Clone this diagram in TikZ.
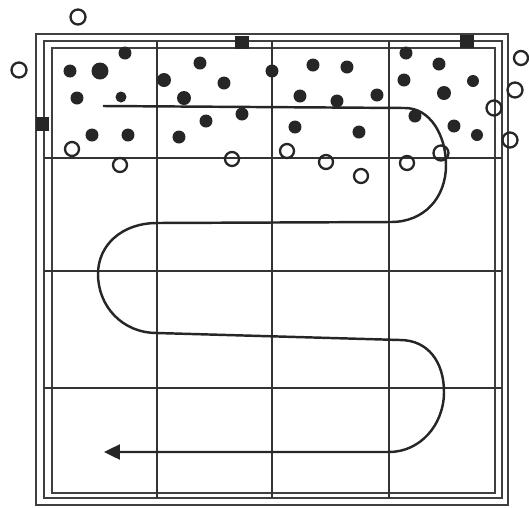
\documentclass[tikz,border=0pt]{standalone}
\usetikzlibrary{arrows.meta}
\begin{document}
\begin{tikzpicture}[x=0.02cm,y=-0.02cm,
  dot/.style={fill=black!85},
  hole/.style={draw=black!85,line width=1.3pt},
  wall/.style={draw=black!75,line width=1.1pt}]
\useasboundingbox (0,0) rectangle (529,508);

% frame
\draw[wall] (36,34) rectangle (508,505);
\draw[wall] (44,41) rectangle (502,498);
\draw[wall] (52,48) rectangle (495,493);

% grid
\draw[line width=1.4pt,black!80] (157,41) -- (157,498);
\draw[line width=1.4pt,black!80] (272,41) -- (272,498);
\draw[line width=1.4pt,black!80] (389,41) -- (389,498);
\draw[line width=1.4pt,black!80] (44,158) -- (502,158);
\draw[line width=1.4pt,black!80] (44,271) -- (502,271);
\draw[line width=1.4pt,black!80] (44,388) -- (502,388);

% sweep
\draw[line width=1.4pt,black!85,-{Triangle[length=3.2mm,width=3mm]}]
  (103,106) -- (405,108) .. controls (430,108) and (446,135) .. (446,165)
  .. controls (446,198) and (424,222) .. (391,222) -- (157,223)
  .. controls (122,223) and (98,245) .. (98,274)
  .. controls (98,306) and (122,333) .. (157,333) -- (400,340)
  .. controls (428,340) and (444,362) .. (444,392)
  .. controls (444,425) and (420,452) .. (389,452) -- (104,452);

% dirt
\fill[dot] (70,71) circle (6.5);
\fill[dot] (100,71) circle (8.5);
\fill[dot] (125,53) circle (6.5);
\fill[dot] (77,98) circle (6.5);
\fill[dot] (121,97) circle (5.5);
\fill[dot] (92,135) circle (6.5);
\fill[dot] (128,135) circle (6.5);
\fill[dot] (200,63) circle (6.5);
\fill[dot] (164,80) circle (7);
\fill[dot] (224,83) circle (6.5);
\fill[dot] (184,98) circle (7);
\fill[dot] (242,114) circle (6.5);
\fill[dot] (206,121) circle (6.5);
\fill[dot] (179,137) circle (6.5);
\fill[dot] (272,71) circle (6.5);
\fill[dot] (313,65) circle (6.5);
\fill[dot] (347,67) circle (6.5);
\fill[dot] (300,96) circle (6.5);
\fill[dot] (337,101) circle (6.5);
\fill[dot] (377,95) circle (6.5);
\fill[dot] (295,127) circle (6.5);
\fill[dot] (359,132) circle (6.5);
\fill[dot] (406,53) circle (6.5);
\fill[dot] (439,64) circle (6.5);
\fill[dot] (404,80) circle (6.5);
\fill[dot] (473,81) circle (6);
\fill[dot] (444,93) circle (7);
\fill[dot] (415,116) circle (6.5);
\fill[dot] (454,126) circle (6.5);
\fill[dot] (477,135) circle (6);
\fill[dot] (36,117) rectangle (49,131);
\fill[dot] (235,36) rectangle (249,49);
\fill[dot] (460,35) rectangle (474,48);

% loose dirt
\draw[hole] (78,17) circle (7.5);
\draw[hole] (19,70) circle (7.5);
\draw[hole] (72,149) circle (7);
\draw[hole] (120,165) circle (7);
\draw[hole] (232,159) circle (7);
\draw[hole] (287,151) circle (7);
\draw[hole] (326,162) circle (7);
\draw[hole] (361,176) circle (7);
\draw[hole] (407,163) circle (7);
\draw[hole] (441,153) circle (7.5);
\draw[hole] (521,58) circle (7);
\draw[hole] (515,90) circle (7.5);
\draw[hole] (494,108) circle (7.5);
\draw[hole] (510,140) circle (7.5);
\end{tikzpicture}
\end{document}
